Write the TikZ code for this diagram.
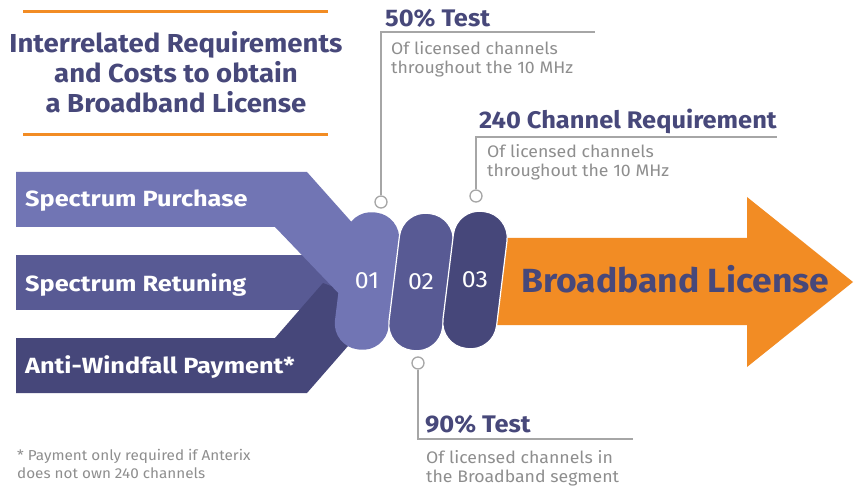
\documentclass[tikz,border=0pt]{standalone}
\usepackage{fontspec}
\setmainfont{Fira Sans}[FakeStretch=1.06]
\newfontfamily\bandfont{Fira Sans}[FakeStretch=1.15]
\definecolor{titleblue}{HTML}{47487A}
\definecolor{bandA}{HTML}{7175B4}
\definecolor{bandB}{HTML}{585A94}
\definecolor{bandC}{HTML}{46477A}
\definecolor{licorange}{HTML}{F28C24}
\definecolor{notegrey}{HTML}{8E8E8E}
\definecolor{linegrey}{HTML}{A6A6A6}
\tikzset{
  pill/.style={rectangle,rounded corners=26pt,minimum width=54pt,minimum height=138pt,draw=white,line width=1.2pt,rotate=-7},
  pilltext/.style={text=white,font=\fontsize{23.5}{23.5}\selectfont,inner sep=0pt},
  bandtext/.style={anchor=base west,text=white,font=\bandfont\bfseries\fontsize{22}{22}\selectfont,inner sep=0pt},
  heading/.style={anchor=base west,text=titleblue,font=\bfseries\fontsize{24}{24}\selectfont,inner sep=0pt},
  titletext/.style={anchor=base,text=titleblue,font=\bfseries\fontsize{26}{26}\selectfont,inner sep=0pt},
  desc/.style={anchor=base west,text=notegrey,font=\fontsize{16.7}{16.7}\selectfont,inner sep=0pt},
  note/.style={anchor=base west,text=notegrey,font=\fontsize{14.4}{14.4}\selectfont,inner sep=0pt},
  pin/.style={circle,draw=linegrey,fill=white,line width=1.3pt,minimum size=12pt,inner sep=0pt},
  callout/.style={draw=linegrey,line width=1.3pt},
  rule/.style={draw=licorange,line width=3pt},
}
\begin{document}
\begin{tikzpicture}[x=1pt,y=-1pt]
        \useasboundingbox[fill=white] (0,0) rectangle (856,486);
        % title block
        \coordinate (ruleTopL) at (23,12);
        \coordinate (ruleTopR) at (328,12);
        \coordinate (ruleBotL) at (23,135);
        \coordinate (ruleBotR) at (328,135);
        \draw[rule] (ruleTopL)--(ruleTopR);
        \draw[rule] (ruleBotL)--(ruleBotR);
        \node[titletext] (title1) at (176,53) {Interrelated Requirements};
        \node[titletext] (title2) at (176,83) {and Costs to obtain};
        \node[titletext] (title3) at (176,113) {a Broadband License};
        % bands
        \fill[bandB] (16,255)--(350,255)--(350,310)--(16,310)--cycle;
        \fill[bandC] (16,338)--(275,338)--(323,283)--(368,300)--(355,338)--(307,393)--(16,393)--cycle;
        \fill[bandA] (16,172)--(307,172)--(372,245)--(345,300)--(275,227)--(16,227)--cycle;
        % arrow
        \fill[licorange] (490,238)--(747,238)--(747,197)--(853,282)--(747,367)--(747,325)--(490,325)--cycle;
        % pills
        \node[pill,fill=bandA,draw=none] (pill1) at (367,281) {};
        \node[pill,fill=bandB] (pill2) at (421,282) {};
        \node[pill,fill=bandC] (pill3) at (475,280) {};
        \node[pilltext] (num1) at (pill1.center) {01};
        \node[pilltext] (num2) at (pill2.center) {02};
        \node[pilltext] (num3) at (pill3.center) {03};
        \node[bandtext] (purchase) at (25,207) {Spectrum Purchase};
        \node[bandtext] (retuning) at (25,291) {Spectrum Retuning};
        \node[bandtext] (windfall) at (25,373) {Anti-Windfall Payment*};
        \node[anchor=base west,text=titleblue,font=\bfseries\fontsize{33.5}{33.5}\selectfont,inner sep=0pt] (license) at (521,292) {Broadband License};
        % callouts
        \node[pin] (pinA) at (381,202) {};
        \node[pin] (pinB) at (476,196) {};
        \node[pin] (pinC) at (418,363) {};
        \coordinate (cornerA) at (381,32);
        \coordinate (endA) at (595,32);
        \coordinate (cornerB) at (476,137);
        \coordinate (endB) at (777,137);
        \coordinate (cornerC) at (418,439);
        \coordinate (endC) at (633,439);
        \draw[callout] (pinA)--(cornerA)--(endA);
        \draw[callout] (pinB)--(cornerB)--(endB);
        \draw[callout] (pinC)--(cornerC)--(endC);
        \node[heading] (testA) at (385,27) {50\% Test};
        \node[desc] (descA1) at (391,55) {Of licensed channels};
        \node[desc] (descA2) at (391,74) {throughout the 10 MHz};
        \node[heading] (testB) at (479,129) {240 Channel Requirement};
        \node[desc] (descB1) at (487,158) {Of licensed channels};
        \node[desc] (descB2) at (487,177) {throughout the 10 MHz};
        \node[heading] (testC) at (425,432) {90\% Test};
        \node[desc] (descC1) at (426,463) {Of licensed channels in};
        \node[desc] (descC2) at (426,482) {the Broadband segment};
        % footnote
        \node[note] (note1) at (17,460) {* Payment only required if Anterix};
        \node[note] (note2) at (17,478) {does not own 240 channels};
\end{tikzpicture}
\end{document}
